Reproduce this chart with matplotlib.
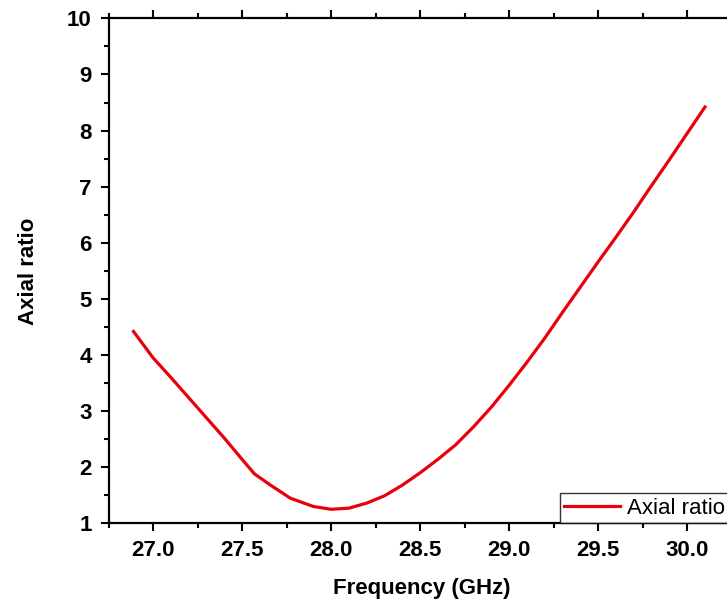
import matplotlib
matplotlib.use("Agg")
import matplotlib.pyplot as plt
from matplotlib.ticker import MultipleLocator, FormatStrFormatter

# Axial ratio vs frequency
freq_ghz = [26.89, 27.0, 27.1, 27.2, 27.3, 27.4, 27.5, 27.57, 27.66, 27.77,
            27.9, 28.0, 28.1, 28.2, 28.3, 28.4, 28.5, 28.6, 28.7, 28.8,
            28.9, 29.0, 29.1, 29.2, 29.3, 29.4, 29.5, 29.6, 29.7, 29.8,
            29.9, 30.0, 30.1]
axial_ratio = [4.42, 3.95, 3.60, 3.24, 2.88, 2.52, 2.14, 1.88, 1.68, 1.45,
               1.30, 1.25, 1.27, 1.36, 1.49, 1.68, 1.90, 2.14, 2.40, 2.72,
               3.07, 3.46, 3.87, 4.30, 4.76, 5.21, 5.66, 6.10, 6.55, 7.02,
               7.48, 7.95, 8.42]
series_label = "Axial ratio"
x_label = "Frequency (GHz)"
y_label = "Axial ratio"

plt.rcParams["font.family"] = ["Liberation Sans", "DejaVu Sans"]

fig = plt.figure(figsize=(7.27, 6.04), dpi=100)
# axes run a little past the right edge, as in the cropped reference
ax = fig.add_axes([0.1493, 0.1336, 0.862, 0.836])

ax.plot(freq_ghz, axial_ratio, color="#e8000b", lw=2.3, label=series_label)

ax.set_xlim(26.75, 30.27)
ax.set_ylim(1, 10)
ax.xaxis.set_major_locator(MultipleLocator(0.5))
ax.xaxis.set_minor_locator(MultipleLocator(0.25))
ax.yaxis.set_major_locator(MultipleLocator(1))
ax.yaxis.set_minor_locator(MultipleLocator(0.5))
ax.xaxis.set_major_formatter(FormatStrFormatter("%.1f"))

ax.tick_params(which="both", direction="out", top=True, right=False,
               width=1.5, labelsize=16, pad=6)
ax.tick_params(which="major", length=6)
ax.tick_params(which="minor", length=3.5)
for lab in ax.get_xticklabels() + ax.get_yticklabels():
    lab.set_fontweight("bold")

for side in ["left", "bottom", "top"]:
    ax.spines[side].set_linewidth(1.6)
ax.spines["right"].set_visible(False)

ax.set_xlabel(x_label, fontsize=16, fontweight="bold", labelpad=12)
ax.set_ylabel(y_label, fontsize=16, fontweight="bold", labelpad=20)

# legend frame runs just past the right edge, text stays inside
leg = ax.legend(loc="lower right", bbox_to_anchor=(0.99, 0.0), fontsize=16,
                frameon=True, fancybox=False, borderaxespad=0,
                handlelength=2.5, handletextpad=0.3, borderpad=0.2)
leg.get_frame().set_edgecolor("black")
leg.get_frame().set_linewidth(1.0)

fig.savefig("out.png", dpi=100)
